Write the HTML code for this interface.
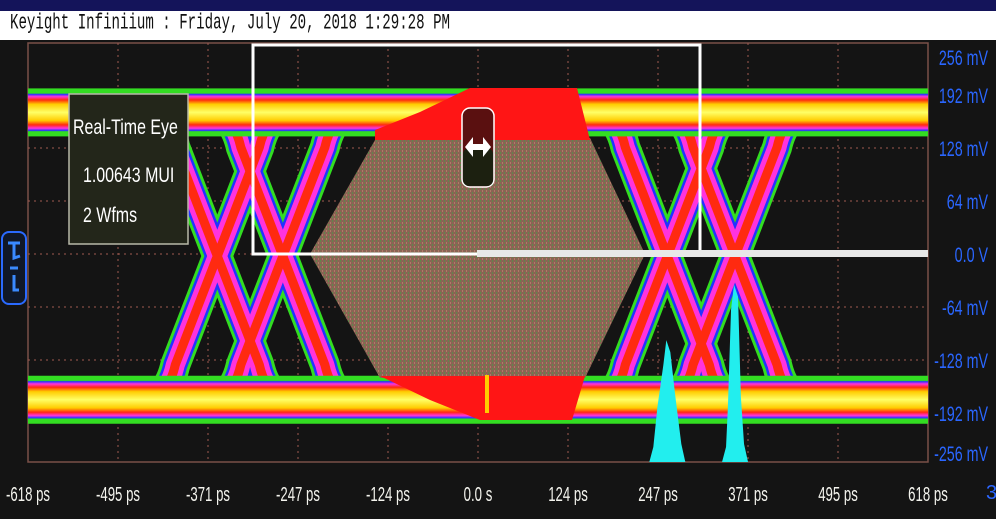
<!DOCTYPE html>
<html><head><meta charset="utf-8">
<style>
html,body{margin:0;padding:0;background:#141414;width:996px;height:519px;overflow:hidden}
svg{display:block}
</style></head>
<body>
<svg id="scope" width="996" height="519" viewBox="0 0 996 519" xmlns="http://www.w3.org/2000/svg">
  <defs>
    <linearGradient id="railG" x1="0" y1="0" x2="0" y2="1">
      <stop offset="0" stop-color="#33dd22"/><stop offset="0.1" stop-color="#33dd22"/>
      <stop offset="0.12" stop-color="#2233ff"/><stop offset="0.17" stop-color="#ff33dd"/>
      <stop offset="0.24" stop-color="#ff2a10"/><stop offset="0.33" stop-color="#ffcc00"/>
      <stop offset="0.5" stop-color="#ffff66"/><stop offset="0.67" stop-color="#ffcc00"/>
      <stop offset="0.76" stop-color="#ff2a10"/><stop offset="0.83" stop-color="#ff33dd"/>
      <stop offset="0.88" stop-color="#2233ff"/><stop offset="0.9" stop-color="#33dd22"/>
      <stop offset="1" stop-color="#33dd22"/>
    </linearGradient>
    <pattern id="maskPat" width="4" height="4" patternUnits="userSpaceOnUse">
      <rect width="4" height="4" fill="#8a6454"/>
      <rect x="0" y="0" width="1" height="2" fill="#5d8a4a"/>
      <rect x="2" y="2" width="1" height="2" fill="#b07a66"/>
    </pattern>
  </defs>
  <rect x="0" y="0" width="996" height="11" fill="#14145a"/>
  <rect x="0" y="11" width="996" height="29" fill="#ffffff"/>
  <text x="10" y="24" font-family="Liberation Mono, monospace" font-size="15" fill="#111" transform="translate(0,14) scale(1,1.45) translate(0,-14)" textLength="440" lengthAdjust="spacingAndGlyphs">Keyight Infiniium : Friday, July 20, 2018 1:29:28 PM</text>
  <g id="grid"></g>
  <g id="traces"></g>
  <g id="axes"></g>
</svg>
<script>
const xTickLabels = ["-618 ps","-495 ps","-371 ps","-247 ps","-124 ps","0.0 s","124 ps","247 ps","371 ps","495 ps","618 ps"];
const yTickLabels = ["256 mV","192 mV","128 mV","64 mV","0.0 V","-64 mV","-128 mV","-192 mV","-256 mV"];
const yTickValues = [256,192,128,64,0,-64,-128,-192,-256];
const crossingsPs = [-358, -268, 260, 353];
const railLevelsMv = [171, -176];
const histPeaksMv = [-104, -37];

const NS = "http://www.w3.org/2000/svg";
const X0 = 28, X1 = 928, Y0 = 43, Y1 = 462;
const xScale = ps => 478 + ps * (450 / 618);
const yScale = mv => 254 - mv * (53 / 64);
function mk(tag, attrs, parent) { const e = document.createElementNS(NS, tag); for (const k in attrs) e.setAttribute(k, attrs[k]); parent.appendChild(e); return e; }

const grid = document.getElementById('grid');
const bg = mk('rect', {x:X0,y:Y0,width:X1-X0,height:Y1-Y0,fill:'#141414',stroke:'#7a5048','stroke-width':1.5}, grid);


for (let i = 1; i < 10; i++) {
  const x = X0 + i * 90;
  const l = mk('line', {x1:x,y1:Y0,x2:x,y2:Y1,stroke:'#a05a50','stroke-width':1,'stroke-dasharray':'2,4'}, grid);
  
  
}
for (let j = -3; j <= 3; j++) {
  const y = 254 + j * 53;
  const l = mk('line', {x1:X0,y1:y,x2:X1,y2:y,stroke:'#a05a50','stroke-width':1,'stroke-dasharray':'2,4'}, grid);
  
  
}

const tr = document.getElementById('traces');
const yTop = yScale(railLevelsMv[0]), yBot = yScale(railLevelsMv[1]);
// transitions
const layers = [['#33dd22',30],['#2233ff',24],['#ff33dd',19],['#ff2a10',9]];
function edgePath(xc, dir) {
  const a = dir > 0 ? yTop : yBot, b = dir > 0 ? yBot : yTop, s = dir > 0 ? 1 : -1;
  return `M${xc-75},${a} Q${xc-50},${a} ${xc-42},${a + s*35} L${xc+42},${b - s*35} Q${xc+50},${b} ${xc+75},${b}`;
}
layers.forEach(([c, w]) => {
  crossingsPs.forEach(ps => {
    const xc = xScale(ps);
    [1, -1].forEach(d => {
      const p = mk('path', {d:edgePath(xc, d),fill:'none',stroke:c,'stroke-width':w,'stroke-linejoin':'round'}, tr);
      
      
    });
  });
});
// rails
[yTop, yBot].forEach((yc, i) => {
  const r = mk('rect', {x:X0,y:yc-24,width:X1-X0,height:48,fill:'url(#railG)'}, tr);
  
  
});
// mask
const mask = mk('polygon', {points:'375,140 590,138 645,254 585,378 380,378 310,254', fill:'url(#maskPat)'}, tr);


const rt = mk('polygon', {points:'470,88 577,88 590,140 375,140 375,130 420,112', fill:'#ff1515'}, tr);


const rb = mk('polygon', {points:'380,376 585,376 572,420 480,420 430,400', fill:'#ff1515'}, tr);


mk('rect', {x:485,y:375,width:4,height:38,fill:'#ffcc00'}, tr);
// histograms
histPeaksMv.forEach((mv, i) => {
  const xc = xScale(crossingsPs[i + 2]);
  const yp = yScale(mv);
  const w = i === 0 ? 18 : 13;
  const h = mk('polygon', {points:`${xc-w},${Y1} ${xc-w+4},${Y1-15} ${xc-w*0.55},${Y1-55} ${xc-4},${yp+25} ${xc-1},${yp} ${xc+3},${yp+12} ${xc+w*0.45},${Y1-65} ${xc+w-4},${Y1-18} ${xc+w},${Y1}`, fill:'#22eeee'}, tr);
  
  
});
// white box and zero line
const box = mk('rect', {x:253,y:45,width:447,height:209,fill:'none',stroke:'#fff','stroke-width':3}, tr);


const zl = mk('rect', {x:477,y:250,width:451,height:7,fill:'#e8e8e8'}, tr);


// marker button
const mb = mk('rect', {x:462,y:108,width:32,height:79,rx:8,fill:'#5a1010',stroke:'#fff','stroke-width':1.5}, tr);


mk('rect', {x:463,y:148,width:30,height:38,rx:6,fill:'#1c2010'}, tr);
mk('path', {d:'M465,147 L473,137 L473,144 L483,144 L483,137 L491,147 L483,157 L483,150 L473,150 L473,157 Z', fill:'#fff'}, tr);
// info box
const ib = mk('rect', {x:69,y:94,width:119,height:150,fill:'#23261a',stroke:'#b8b8a8','stroke-width':1.5}, tr);


[['Real-Time Eye',73,134],['1.00643 MUI',83,182],['2 Wfms',83,222]].forEach(([t,x,y]) => {
  const e = mk('text', {x:x,y:y,fill:'#fff','font-family':'Liberation Sans, sans-serif','font-size':21,transform:`translate(${x},0) scale(0.76,1) translate(${-x},0)`}, tr);
  e.textContent = t;
  
  
});
// left trigger icon
const ti = mk('rect', {x:2,y:232,width:24,height:72,rx:7,fill:'#101828',stroke:'#2a6aff','stroke-width':2}, tr);


mk('path', {d:'M8,243 L20,243 M14,243 L14,258 L20,256 M10,268 L18,268 M14,275 L14,290 L19,290', stroke:'#3a8aff','stroke-width':3,fill:'none'}, tr);

// axes labels
const ax = document.getElementById('axes');
xTickLabels.forEach((t, i) => {
  const x = X0 + i * 90;
  const e = mk('text', {x:x,y:501,fill:'#f4f4ee','font-family':'Liberation Sans, sans-serif','font-size':20,'text-anchor':'middle',transform:`translate(${x},0) scale(0.66,1) translate(${-x},0)`}, ax);
  e.textContent = t;
  
  
});
yTickLabels.forEach((t, i) => {
  const y = 254 - yTickValues[i] * 53 / 64;
  const yy = Math.max(57, Math.min(453, y)) + 8;
  const e = mk('text', {x:988,y:yy,fill:'#2a66ff','font-family':'Liberation Sans, sans-serif','font-size':21,'text-anchor':'end',transform:`translate(988,0) scale(0.68,1) translate(-988,0)`}, ax);
  e.textContent = t;
  
  
});
const ch = mk('text', {x:986,y:499,fill:'#2a66ff','font-family':'Liberation Sans, sans-serif','font-size':20}, ax);
ch.textContent = '3';


</script>
</body></html>
